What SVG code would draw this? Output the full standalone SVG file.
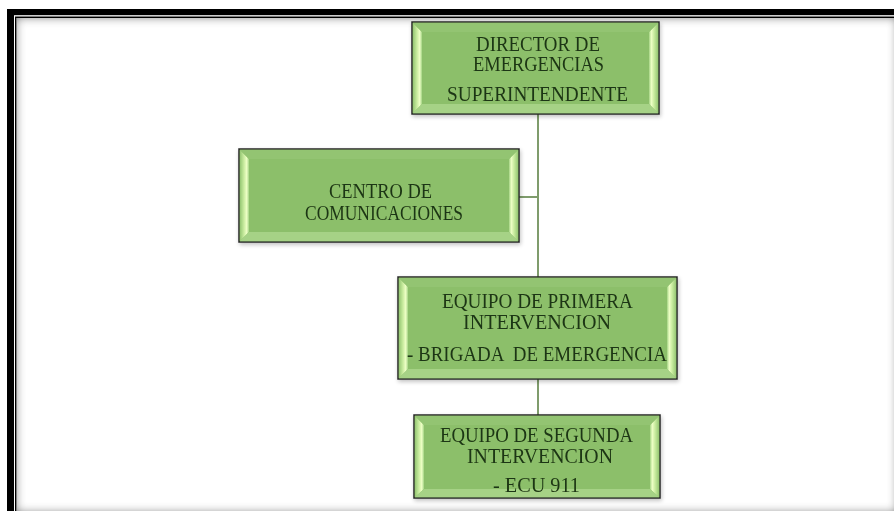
<svg xmlns="http://www.w3.org/2000/svg" width="894" height="511" viewBox="0 0 894 511">
<defs>
<style>
.base{fill:#8dbf6b;stroke:#262626;stroke-width:1.5}
.face{fill:#8cbf6a}
.top{fill:#93c472}
.bot{fill:#a6d286}
.bl{fill:url(#bevL)}
.br{fill:url(#bevR)}
.t{font-family:"Liberation Serif","DejaVu Serif",serif;font-size:20px;fill:#1c3512}
.conn{stroke:#7f9c6c;stroke-width:2;fill:none}
</style>
<linearGradient id="bevL" x1="0" y1="0" x2="1" y2="0">
<stop offset="0" stop-color="#93c571"/>
<stop offset="0.45" stop-color="#c9ec9f"/>
<stop offset="0.75" stop-color="#eeffc6"/>
<stop offset="1" stop-color="#a3d383"/>
</linearGradient>
<linearGradient id="bevR" x1="1" y1="0" x2="0" y2="0">
<stop offset="0" stop-color="#93c571"/>
<stop offset="0.45" stop-color="#c9ec9f"/>
<stop offset="0.75" stop-color="#eeffc6"/>
<stop offset="1" stop-color="#a3d383"/>
</linearGradient>
<filter id="inner" x="-0.05" y="-0.05" width="1.1" height="1.1">
<feFlood flood-color="#000" result="f"/>
<feComposite in="f" in2="SourceAlpha" operator="out" result="o"/>
<feGaussianBlur in="o" stdDeviation="5" result="b"/>
<feComposite in="b" in2="SourceAlpha" operator="in" result="s"/>
<feComponentTransfer in="s" result="s2"><feFuncA type="linear" slope="0.9"/></feComponentTransfer>
<feMerge><feMergeNode in="SourceGraphic"/><feMergeNode in="s2"/></feMerge>
</filter>
<filter id="sh" x="-0.05" y="-0.05" width="1.1" height="1.2">
<feGaussianBlur in="SourceAlpha" stdDeviation="2"/>
<feOffset dx="1" dy="2" result="b"/>
<feComponentTransfer><feFuncA type="linear" slope="0.25"/></feComponentTransfer>
<feMerge><feMergeNode/><feMergeNode in="SourceGraphic"/></feMerge>
</filter>
</defs>
<rect x="0" y="0" width="894" height="511" fill="#ffffff"/>
<g id="frame">
<rect x="7" y="9" width="900" height="510" fill="#000"/>
<rect x="14" y="15.2" width="900" height="510" fill="#fff"/>
<rect x="15" y="16.5" width="900" height="510" fill="#000"/>
<rect x="16.5" y="18" width="880" height="494" fill="#fff" filter="url(#inner)"/>
</g>
<g id="connectors">
<line class="conn" x1="538" y1="114" x2="538" y2="277"/>
<line class="conn" x1="519" y1="197" x2="538" y2="197"/>
<line class="conn" x1="538" y1="379" x2="538" y2="415"/>
</g>
<g id="director" filter="url(#sh)">
<rect class="base" x="412" y="22" width="247" height="92"/>
<polygon class="bl" points="412.8,22.8 422,32 422,104 412.8,113.2"/>
<polygon class="br" points="658.2,22.8 649,32 649,104 658.2,113.2"/>
<polygon class="top" points="412.8,22.8 658.2,22.8 649,32 422,32"/>
<polygon class="bot" points="412.8,113.2 658.2,113.2 649,104 422,104"/>
<rect class="face" x="422" y="32" width="227" height="72"/>
<text class="t" x="476" y="50.5" textLength="124" lengthAdjust="spacingAndGlyphs">DIRECTOR DE</text>
<text class="t" x="473" y="71" textLength="131" lengthAdjust="spacingAndGlyphs">EMERGENCIAS</text>
<text class="t" x="447" y="100.5" textLength="181" lengthAdjust="spacingAndGlyphs">SUPERINTENDENTE</text>
</g>
<g id="centro" filter="url(#sh)">
<rect class="base" x="239" y="149" width="280" height="93"/>
<polygon class="bl" points="239.8,149.8 249,159 249,232 239.8,241.2"/>
<polygon class="br" points="518.2,149.8 509,159 509,232 518.2,241.2"/>
<polygon class="top" points="239.8,149.8 518.2,149.8 509,159 249,159"/>
<polygon class="bot" points="239.8,241.2 518.2,241.2 509,232 249,232"/>
<rect class="face" x="249" y="159" width="260" height="73"/>
<text class="t" x="329" y="198" textLength="103" lengthAdjust="spacingAndGlyphs">CENTRO DE</text>
<text class="t" x="305" y="220" textLength="158" lengthAdjust="spacingAndGlyphs">COMUNICACIONES</text>
</g>
<g id="primera" filter="url(#sh)">
<rect class="base" x="398" y="277" width="279" height="102"/>
<polygon class="bl" points="398.8,277.8 408,287 408,369 398.8,378.2"/>
<polygon class="br" points="676.2,277.8 667,287 667,369 676.2,378.2"/>
<polygon class="top" points="398.8,277.8 676.2,277.8 667,287 408,287"/>
<polygon class="bot" points="398.8,378.2 676.2,378.2 667,369 408,369"/>
<rect class="face" x="408" y="287" width="259" height="82"/>
<text class="t" x="442" y="308" textLength="191" lengthAdjust="spacingAndGlyphs">EQUIPO DE PRIMERA</text>
<text class="t" x="463" y="329" textLength="148" lengthAdjust="spacingAndGlyphs">INTERVENCION</text>
<text class="t" x="407" y="361" textLength="260" lengthAdjust="spacingAndGlyphs" xml:space="preserve">- BRIGADA  DE EMERGENCIA</text>
</g>
<g id="segunda" filter="url(#sh)">
<rect class="base" x="414" y="415" width="246" height="83"/>
<polygon class="bl" points="414.8,415.8 424,425 424,489 414.8,497.2"/>
<polygon class="br" points="659.2,415.8 650,425 650,489 659.2,497.2"/>
<polygon class="top" points="414.8,415.8 659.2,415.8 650,425 424,425"/>
<polygon class="bot" points="414.8,497.2 659.2,497.2 650,489 424,489"/>
<rect class="face" x="424" y="425" width="226" height="64"/>
<text class="t" x="440" y="442" textLength="193" lengthAdjust="spacingAndGlyphs">EQUIPO DE SEGUNDA</text>
<text class="t" x="467" y="463" textLength="146" lengthAdjust="spacingAndGlyphs">INTERVENCION</text>
<text class="t" x="493" y="492" textLength="87" lengthAdjust="spacingAndGlyphs">- ECU 911</text>
</g>
</svg>
